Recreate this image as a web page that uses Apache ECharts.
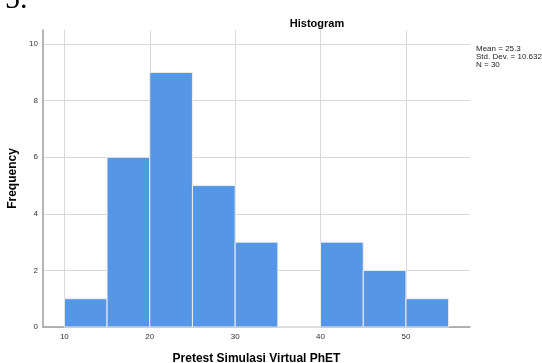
<!DOCTYPE html>
<html>
<head>
<meta charset="utf-8">
<script src="https://cdn.jsdelivr.net/npm/echarts@6/dist/echarts.min.js"></script>
<style>html,body{margin:0;padding:0;background:#fff;}#c{width:542px;height:363px;}</style>
</head>
<body>
<div id="c"></div>
<script>
// Bin start values (width 5) and frequencies
const binStarts = [10, 15, 20, 25, 30, 35, 40, 45, 50];
const binWidth = 5;
const frequencies = [1, 6, 9, 5, 3, 0, 3, 2, 1];
const xTicks = [10, 20, 30, 40, 50];
const yTicks = [0, 2, 4, 6, 8, 10];
const statsLines = ['Mean = 25.3', 'Std. Dev. = 10.632', 'N = 30'];

const chart = echarts.init(document.getElementById('c'), null, {renderer: 'canvas'});
const data = binStarts.map((s, i) => [s, s + binWidth, frequencies[i]]);

chart.setOption({
  animation: false,
  backgroundColor: '#fff',
  title: {
    text: 'Histogram', left: 312, top: 13, textAlign: 'center',
    textStyle: {fontFamily: 'Liberation Sans', fontSize: 11, fontWeight: 'bold', color: '#000'}
  },
  grid: {left: 43, top: 30, right: 72, bottom: 36, containLabel: false, outerBoundsMode: 'none'},
  xAxis: {
    type: 'value', min: 7.5, max: 57.5,
    name: 'Pretest Simulasi Virtual PhET', nameLocation: 'middle', nameGap: 26,
    nameTextStyle: {fontFamily: 'Liberation Sans', fontSize: 12, fontWeight: 'bold', color: '#000'},
    axisLine: {show: true, onZero: false, lineStyle: {color: '#9e9e9e', width: 1.5}},
    axisTick: {show: false, customValues: xTicks},
    axisLabel: {customValues: xTicks, margin: 6, fontFamily: 'Liberation Sans', fontSize: 8, color: '#333'},
    splitLine: {show: true, lineStyle: {color: '#d9d9d9', width: 1}}
  },
  yAxis: {
    type: 'value', min: 0, max: 10.5,
    name: 'Frequency', nameLocation: 'middle', nameGap: 16,
    nameTextStyle: {fontFamily: 'Liberation Sans', fontSize: 12, fontWeight: 'bold', color: '#000'},
    axisLine: {show: true, lineStyle: {color: '#9e9e9e', width: 1.5}},
    axisTick: {show: false, customValues: yTicks},
    axisLabel: {customValues: yTicks, margin: 5, fontFamily: 'Liberation Sans', fontSize: 8, color: '#333'},
    splitLine: {show: true, lineStyle: {color: '#d9d9d9', width: 1}}
  },
  graphic: [
    {type: 'text', left: 476, top: 45, style: {text: statsLines.join('\n'), fontFamily: 'Liberation Sans', fontSize: 8, lineHeight: 8, fill: '#222'}},
    {type: 'text', x: 5, y: 15, style: {text: '5.', fontFamily: 'Liberation Serif', fontSize: 30, fill: '#000', verticalAlign: 'bottom'}}
  ],
  series: [{
    type: 'custom',
    data: data,
    encode: {x: [0, 1], y: 2},
    renderItem: function (params, api) {
      const p0 = api.coord([api.value(0), api.value(2)]);
      const p1 = api.coord([api.value(1), 0]);
      return {
        type: 'rect',
        shape: {x: p0[0], y: p0[1], width: p1[0] - p0[0], height: p1[1] - p0[1]},
        style: {fill: '#5596e6', stroke: '#eeeeee', lineWidth: 1}
      };
    }
  }]
});
</script>
</body>
</html>
